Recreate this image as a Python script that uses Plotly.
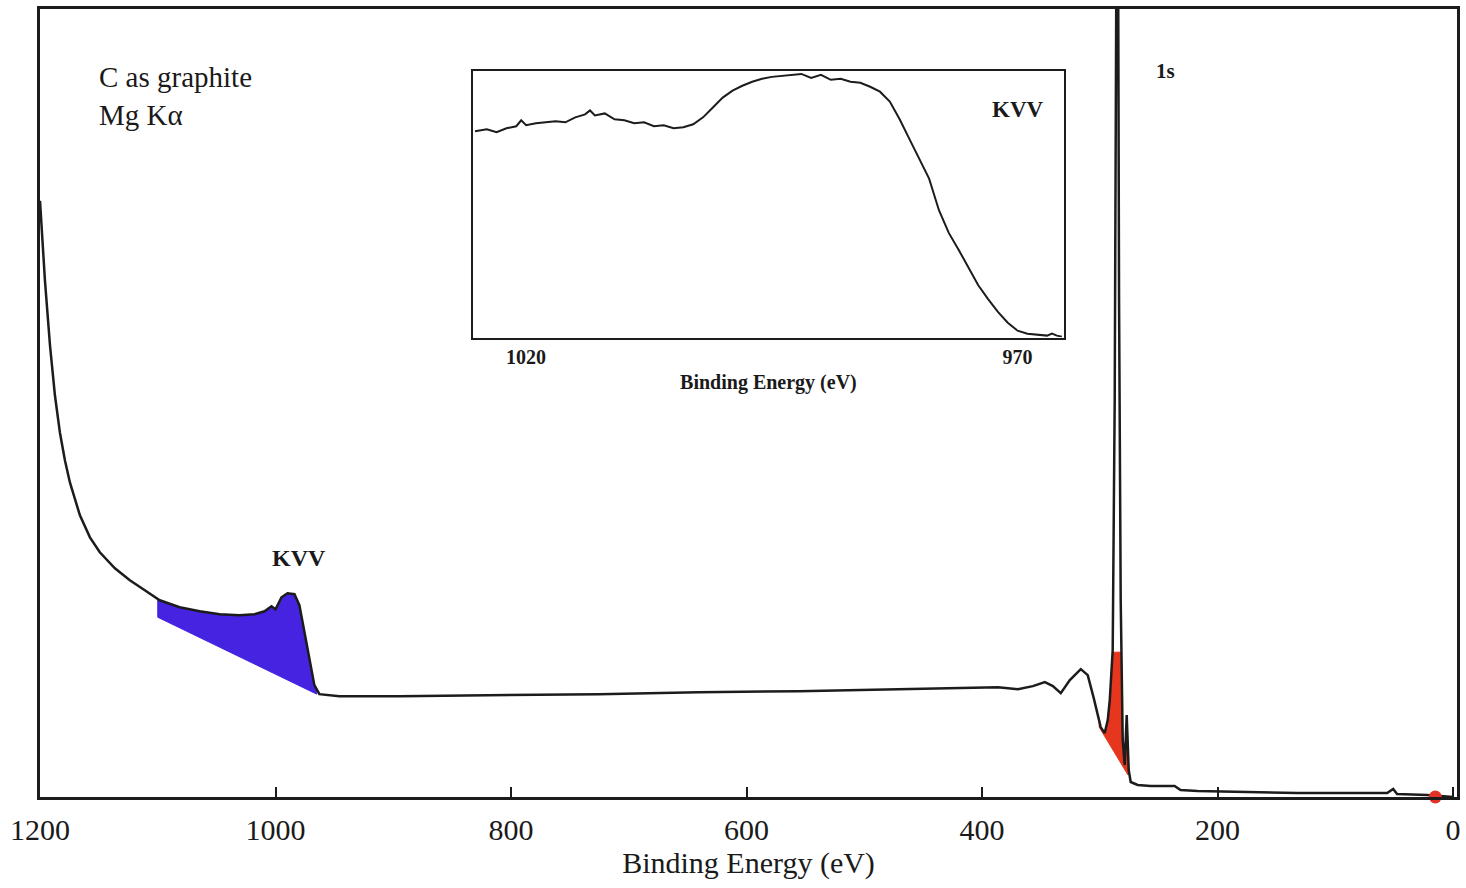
import numpy as np
import plotly.graph_objects as go

# ---- survey spectrum (binding energy in eV, intensity in arbitrary units) ----
energy = [1200, 1198.3, 1195.8, 1191.5, 1187.3, 1183.1, 1178.8, 1174.6, 1166.1, 1157.6,
          1149.2, 1136.4, 1123.7, 1111.0, 1098.3, 1081.4, 1064.4, 1047.5, 1030.5, 1017.8,
          1009.3, 1003.4, 1000.0, 994.9, 989.8, 983.9, 979.7, 975.4, 971.2, 967.0,
          962.7, 945.8, 894.9, 810.2, 725.4, 640.7, 555.9, 471.2, 420.3, 386.4,
          369.5, 356.8, 346.6, 339.8, 333.1, 325.4, 316.1, 310.2, 305.1, 299.2,
          295.8, 293.2, 291.5, 289.0, 287.3, 285.0, 283.6, 282.2, 280.5, 278.8,
          277.1, 275.4, 273.7, 267.8, 256.8, 236.4, 231.4, 216.9, 174.6, 132.2,
          55.9, 50.8, 47.5, 22.0, 0.0]
counts = [597, 562, 517, 452, 402, 365, 337, 315, 282, 260,
          245, 229, 217, 207, 197, 190, 186, 183, 182, 183,
          186, 191, 188, 200, 204, 203, 192, 165, 137, 112,
          103, 101, 101, 102, 103, 105, 106, 108, 109, 110,
          108, 111, 115, 111, 104, 117, 128, 122, 99, 70,
          64, 77, 97, 147, 397, 1100, 497, 197, 57, 32,
          82, 27, 15, 12, 11, 11, 7, 6, 5, 4,
          4, 8, 3, 2, 0]

# ---- inset: C KVV Auger region ----
inset_energy = [1025.2, 1024, 1023, 1022, 1021, 1020.5, 1020, 1019, 1018, 1017,
                1016, 1015, 1014, 1013.5, 1013, 1012, 1011, 1010, 1009, 1008,
                1007, 1006, 1005, 1004, 1003, 1002, 1001, 1000, 999, 998,
                997, 996, 995, 994, 993, 992, 991, 990, 989, 988,
                987, 986, 985, 984, 983, 982, 981, 980, 979, 978,
                977, 976, 975, 974, 973, 972, 971, 970, 969, 968,
                967, 966.5, 966, 965.5]
inset_counts = [208, 210, 207, 211, 213, 219, 214, 216, 217, 218,
                217, 222, 225, 229, 224, 226, 220, 219, 216, 217,
                213, 214, 211, 212, 215, 222, 232, 242, 249, 254,
                258, 261, 263, 264, 265, 266, 262, 265, 260, 261,
                258, 257, 253, 248, 238, 220, 200, 180, 160, 128,
                105, 88, 70, 52, 38, 25, 14, 6, 3, 2,
                1, 3, 1, 0]

# shaded peak areas: straight background lines (energy, counts)
kvv_bg_energy = [1100, 965]
kvv_bg_counts = [180, 103]
c1s_bg_energy = [300.5, 276]
c1s_bg_counts = [70, 22]
c1s_fill_cap = 145

main_ticks = [1200, 1000, 800, 600, 400, 200, 0]
inset_ticks = [1020, 970]

E = np.array(energy)
C = np.array(counts)


def area_polygon(bg_e, bg_c, cap=None):
    hi, lo = max(bg_e), min(bg_e)
    inner = (E < hi) & (E > lo)
    ce = np.concatenate([[hi], E[inner], [lo]])
    cc = np.interp(ce, E[::-1], C[::-1])
    if cap is not None:
        cc = np.minimum(cc, cap)
    be = np.array(bg_e)
    bc = np.array(bg_c)
    order = np.argsort(be)
    base = np.interp(ce, be[order], bc[order])
    xs = np.concatenate([ce, ce[::-1], [ce[0]]])
    ys = np.concatenate([cc, base[::-1], [cc[0]]])
    return xs, ys


LINE = "#1c1c1c"
FONT = "Liberation Serif"

fig = go.Figure()

bx, by = area_polygon(kvv_bg_energy, kvv_bg_counts)
fig.add_trace(go.Scatter(x=bx, y=by, mode="lines", fill="toself",
                         fillcolor="rgb(70,35,225)", line=dict(color="rgb(70,35,225)", width=1),
                         hoverinfo="skip"))
rx, ry = area_polygon(c1s_bg_energy, c1s_bg_counts, c1s_fill_cap)
fig.add_trace(go.Scatter(x=rx, y=ry, mode="lines", fill="toself",
                         fillcolor="rgb(230,55,30)", line=dict(color="rgb(230,55,30)", width=1),
                         hoverinfo="skip"))

fig.add_trace(go.Scatter(x=energy, y=counts, mode="lines",
                         line=dict(color=LINE, width=2.5), name="survey"))

fig.add_trace(go.Scatter(x=[15], y=[0], mode="markers", cliponaxis=False,
                         marker=dict(color="rgb(225,50,40)", size=13), hoverinfo="skip"))

fig.add_trace(go.Scatter(x=inset_energy, y=inset_counts, mode="lines",
                         line=dict(color=LINE, width=2), xaxis="x2", yaxis="y2",
                         name="KVV"))

fig.update_layout(
    width=1466, height=888,
    margin=dict(l=40, r=6, t=8, b=91),
    paper_bgcolor="white", plot_bgcolor="white",
    showlegend=False,
    font=dict(family=FONT, color="#1a1a1a"),
    xaxis=dict(range=[1200, -3.4], tickvals=main_ticks, ticks="inside", ticklen=10,
               tickwidth=1.5, tickcolor=LINE, linecolor=LINE, linewidth=2.5,
               mirror=True, showgrid=False, zeroline=False,
               tickfont=dict(size=30, family=FONT), ticklabelstandoff=4,
               title=dict(text="Binding Energy (eV)", font=dict(size=30, family=FONT),
                          standoff=0)),
    yaxis=dict(range=[0, 789], showticklabels=False, ticks="", linecolor=LINE,
               linewidth=2.5, mirror=True, showgrid=False, zeroline=False),
    xaxis2=dict(domain=[0.3056, 0.7225], anchor="y2", range=[1025.4, 965.3],
                tickvals=inset_ticks, ticktext=["<b>%d</b>" % t for t in inset_ticks],
                ticks="", linecolor=LINE, linewidth=2, mirror=True, showgrid=False,
                zeroline=False, tickfont=dict(size=20, family=FONT), ticklabelstandoff=0,
                title=dict(text="<b>Binding Energy (eV)</b>", font=dict(size=20, family=FONT),
                           standoff=8)),
    yaxis2=dict(domain=[0.583, 0.9214], anchor="x2", range=[-1, 269],
                showticklabels=False, ticks="", linecolor=LINE, linewidth=2,
                mirror=True, showgrid=False, zeroline=False),
)

fig.add_annotation(text="C as graphite<br>Mg Kα", xref="paper", yref="paper",
                   x=0.0401, y=0.937, xanchor="left", yanchor="top", align="left",
                   showarrow=False, font=dict(size=29, family=FONT, color="#1a1a1a"))
fig.add_annotation(text="<b>KVV</b>", xref="x", yref="y", x=980, y=239,
                   showarrow=False, font=dict(size=24, family=FONT, color="#1a1a1a"))
fig.add_annotation(text="<b>1s</b>", xref="x", yref="y", x=244, y=727,
                   showarrow=False, font=dict(size=21, family=FONT, color="#1a1a1a"))
fig.add_annotation(text="<b>KVV</b>", xref="x2", yref="y2", x=970, y=230,
                   showarrow=False, font=dict(size=23, family=FONT, color="#1a1a1a"))

fig.write_html("out.html")
